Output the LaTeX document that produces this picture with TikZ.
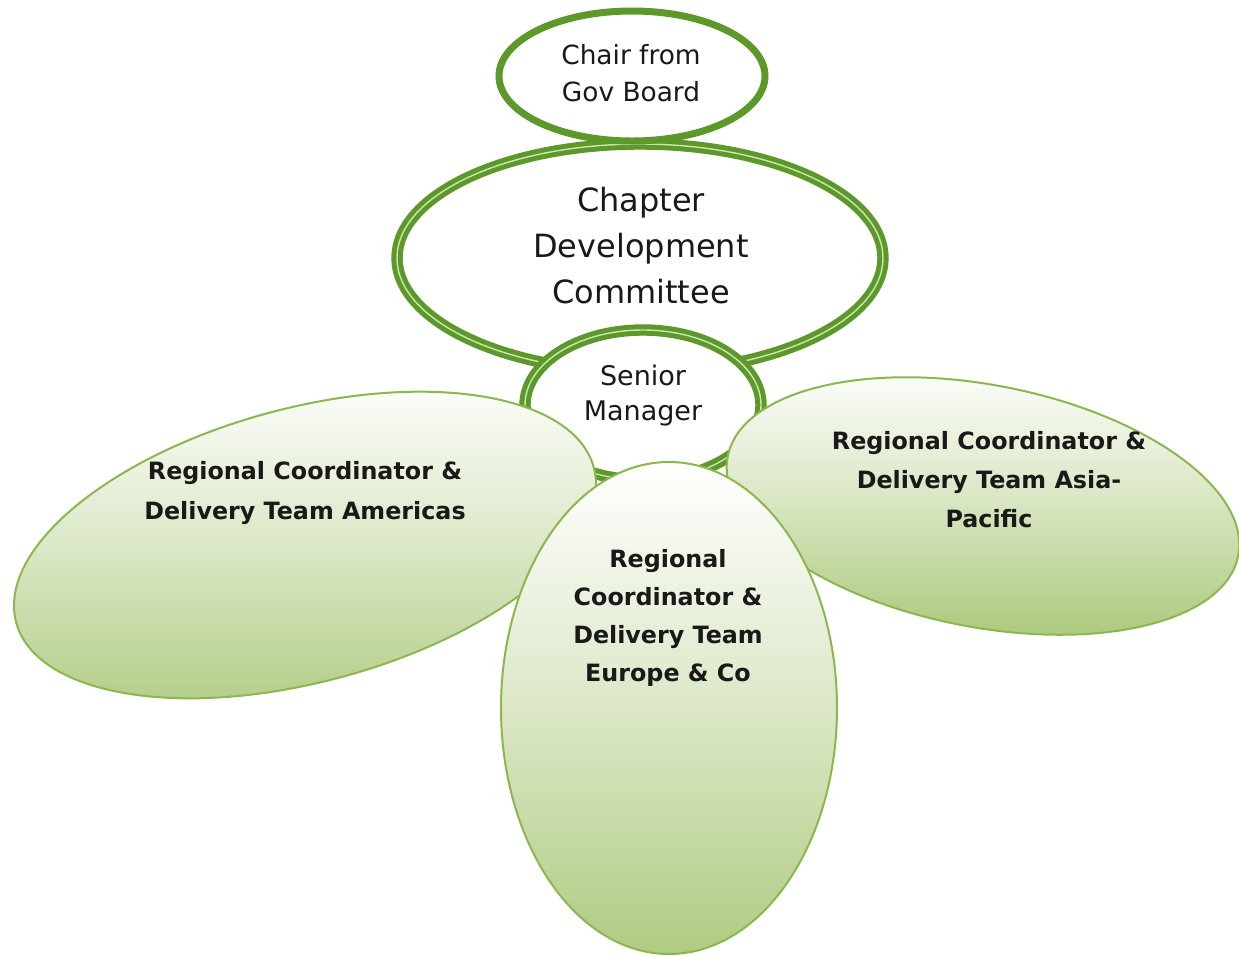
\documentclass[tikz,border=0pt]{standalone}
\usepackage{fontspec}
\setmainfont{DejaVu Sans}
\usepackage{tikz}
\usetikzlibrary{shapes.geometric}

\definecolor{ringgreen}{RGB}{92,152,42}
\definecolor{ringlight}{RGB}{205,228,178}
\definecolor{petaledge}{RGB}{138,184,78}
\definecolor{petalgreen}{RGB}{176,203,130}
\definecolor{txt}{RGB}{25,25,25}

\begin{document}
\begin{tikzpicture}[x=0.5pt, y=-0.5pt,
        chairring/.style={ellipse, draw=ringgreen, fill=white, line width=3.5pt, inner sep=0pt},
        ring/.style={ellipse, draw=ringgreen, fill=white, line width=2.5pt,
            double=ringlight, double distance=0.7pt, inner sep=0pt},
        petal/.style={ellipse, draw=petaledge, line width=1pt, inner sep=0pt,
            top color=white, bottom color=petalgreen, middle color=petalgreen!45!white},
        lbl/.style={align=center, inner sep=0pt, text=txt}]
        \useasboundingbox (0,0) rectangle (1239,955);
        % committee and chair on top of it
        \node [ring, minimum width=243pt, minimum height=114pt] (cdc) at (640,258) {};
        \node [chairring, minimum width=133pt, minimum height=65pt] (chair) at (632,76) {};
        \node [ring, minimum width=118pt, minimum height=75pt] (senior) at (643,405) {};
        % regional petals
        \node [petal, rotate=15, minimum width=299pt, minimum height=137pt] (americas) at (305,545) {};
        \node [petal, rotate=-11, minimum width=260pt, minimum height=121pt] (asia) at (983,506) {};
        \node [petal, minimum width=168pt, minimum height=246pt] (europe) at (669,708) {};
        % texts
        \node [lbl, font=\fontsize{13.2}{18.5}\selectfont] (chairtxt) at (631,73) {Chair from\\Gov Board};
        \node [lbl, font=\fontsize{16}{23}\selectfont] (cdctxt) at (641,246) {Chapter\\Development\\Committee};
        \node [lbl, font=\fontsize{13.5}{17.5}\selectfont] (seniortxt) at (643,396) {Senior\\Manager};
        \node [lbl, font=\bfseries\fontsize{11.9}{20}\selectfont] (americastxt) at (305,493)
            {Regional Coordinator \&\\Delivery Team Americas};
        \node [lbl, font=\bfseries\fontsize{11.9}{19.5}\selectfont] (asiatxt) at (989,480)
            {Regional Coordinator \&\\Delivery Team Asia-\\Pacific};
        \node [lbl, font=\bfseries\fontsize{11.9}{19}\selectfont] (europetxt) at (668,618)
            {Regional\\Coordinator \&\\Delivery Team\\Europe \& Co};
\end{tikzpicture}
\end{document}
